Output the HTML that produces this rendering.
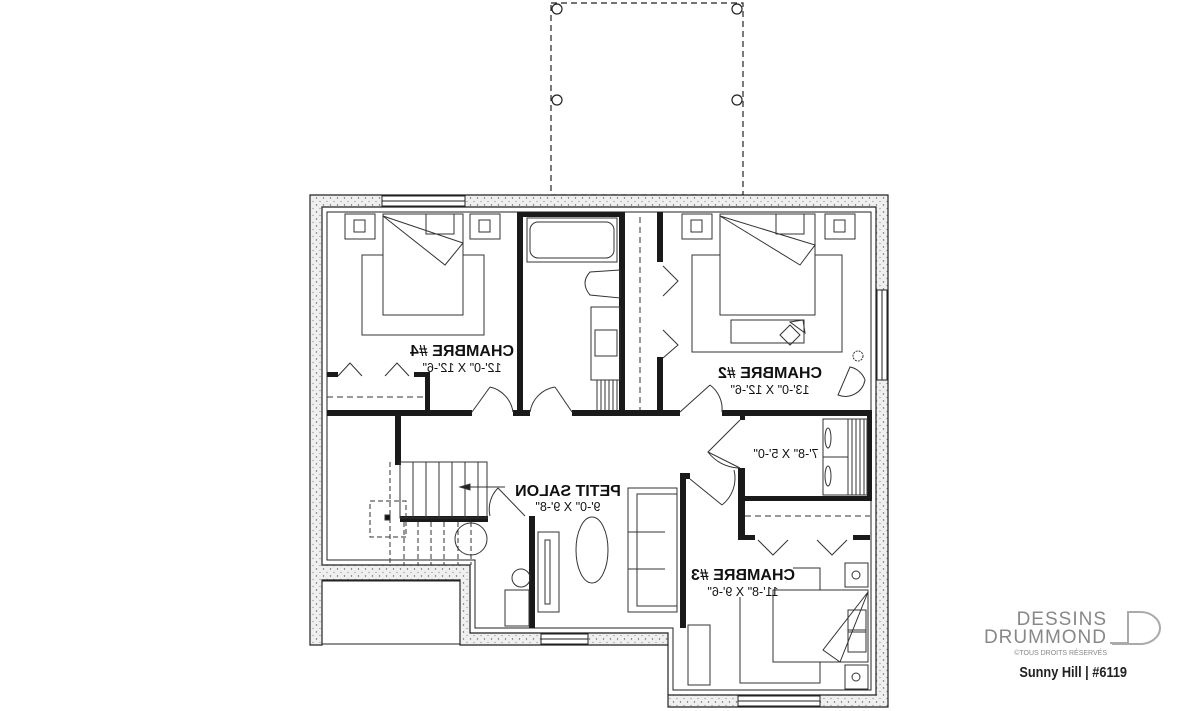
<!DOCTYPE html>
<html><head><meta charset="utf-8"><style>
html,body{margin:0;padding:0;background:#fff;}
svg{display:block;}
text{font-family:"Liberation Sans",sans-serif;}
</style></head><body>
<svg width="1200" height="711" viewBox="0 0 1200 711" xmlns="http://www.w3.org/2000/svg">
<defs>
<pattern id="dots" width="7" height="7" patternUnits="userSpaceOnUse">
<rect width="7" height="7" fill="#efefef"/>
<circle cx="1.5" cy="2" r="0.7" fill="#666"/>
<circle cx="5" cy="5.5" r="0.6" fill="#888"/>
</pattern>
</defs>
<g fill="none" stroke="#222" stroke-width="1.2">
<rect x="551" y="3" width="192" height="192" stroke-dasharray="6,4"/>
<circle cx="557" cy="9" r="5"/><circle cx="737" cy="9" r="5"/>
<circle cx="557" cy="100" r="5"/><circle cx="737" cy="100" r="5"/>
</g>
<g fill="url(#dots)" stroke="#222" stroke-width="1.2">
<path d="M310 195 H888 V707 H668 V645 H460 V580 H322 V645 H310 Z M322 207 V565 H470 V633 H668 V695 H876 V207 Z" fill-rule="evenodd"/>
</g>
<g fill="none" stroke="#222" stroke-width="1">
<path d="M327 212 H871 V690 H673 V628 H475 V560 H327 Z"/>
<rect x="322" y="581" width="138" height="63"/>
<line x1="322" y1="644" x2="460" y2="644" stroke-dasharray="6,4"/>
</g>
<g fill="#fff" stroke="#222" stroke-width="1">
<rect x="382" y="196" width="83" height="10"/><line x1="382" y1="201" x2="465" y2="201"/>
<rect x="877" y="290" width="10" height="90"/><line x1="882" y1="290" x2="882" y2="380"/>
<rect x="541" y="634" width="47" height="10"/><line x1="541" y1="639" x2="588" y2="639"/>
<rect x="738" y="696" width="82" height="10"/><line x1="738" y1="701" x2="820" y2="701"/>
</g>
<g fill="#1a1a1a">
<rect x="327" y="410" width="145" height="6"/>
<rect x="513" y="410" width="17" height="6"/>
<rect x="572" y="410" width="108" height="6"/>
<rect x="722" y="410" width="150" height="6"/>
<rect x="517" y="212" width="6" height="204"/>
<rect x="619" y="212" width="6" height="204"/>
<rect x="517" y="212" width="108" height="5"/>
<rect x="657" y="212" width="6" height="50"/>
<rect x="657" y="357" width="6" height="56"/>
<rect x="327" y="372" width="11" height="5"/>
<rect x="414" y="372" width="16" height="5"/>
<rect x="425" y="372" width="5" height="42"/>
<rect x="395" y="413" width="6" height="52"/>
<rect x="400" y="516" width="88" height="6"/>
<rect x="529" y="516" width="6" height="112"/>
<rect x="680" y="473" width="6" height="155"/>
<rect x="680" y="473" width="10" height="6"/>
<rect x="740" y="413" width="5" height="7"/>
<rect x="738" y="468" width="7" height="72"/>
<rect x="743" y="496" width="129" height="5"/>
<rect x="867" y="413" width="5" height="88"/>
<rect x="738" y="535" width="17" height="5"/>
<rect x="853" y="535" width="17" height="5"/>
</g>
<g fill="none" stroke="#333" stroke-width="1">
<line x1="327" y1="397" x2="425" y2="397" stroke-dasharray="6,4"/>
<line x1="640" y1="217" x2="640" y2="410" stroke-dasharray="6,4"/>
<line x1="745" y1="516" x2="870" y2="516" stroke-dasharray="6,4"/>
<path d="M338 376 L350 363 L362 376 M385 376 L397 363 L409 376"/>
<path d="M663 266 L678 281 L663 296 M663 330 L678 345 L663 358"/>
<path d="M758 540 L773 555 L788 540 M817 540 L832 555 L847 540"/>
<path d="M472 412 L490 387 M490 387 A30 30 0 0 1 513 412"/>
<path d="M572 412 L555 387 M555 387 A30 30 0 0 0 530 412"/>
<path d="M680 412 L710 385 M710 385 A30 30 0 0 1 722 412"/>
<path d="M740 420 L708 452 L740 468 M708 452 A40 40 0 0 0 738 468"/>
<path d="M690 479 L722 505 M722 505 A34 34 0 0 0 734 470"/>
<path d="M498 488 L525 516 M498 488 A30 30 0 0 0 490 516"/>
<rect x="362" y="255" width="122" height="80"/>
<rect x="383" y="214" width="80" height="101" fill="#fff"/>
<path d="M383 216 L463 243 L445 265 Z"/>
<rect x="345" y="214" width="30" height="25"/><rect x="354" y="220" width="11" height="12"/>
<rect x="470" y="214" width="30" height="25"/><rect x="479" y="220" width="11" height="12"/>
<rect x="426" y="214" width="28" height="20"/>
<rect x="692" y="255" width="150" height="97"/>
<rect x="720" y="214" width="95" height="101" fill="#fff"/>
<path d="M720 216 L815 245 L800 265 Z"/>
<rect x="682" y="214" width="30" height="25"/><rect x="691" y="220" width="11" height="12"/>
<rect x="825" y="214" width="30" height="25"/><rect x="834" y="220" width="11" height="12"/>
<rect x="776" y="214" width="28" height="20"/>
<rect x="731" y="320" width="73" height="23" fill="#fff"/>
<path d="M780 335 L790 325 L800 335 L790 345 Z M790 322 L803 320 L805 333 Z"/>
<path d="M838 395 A20 20 0 0 0 865 380 A20 20 0 0 0 850 367 L838 395 Z"/>
<circle cx="858" cy="356" r="5" stroke-dasharray="2,1"/>
<rect x="527" y="218" width="90" height="44"/>
<rect x="530" y="222" width="84" height="36" rx="8"/>
<path d="M620 270 L590 272 Q580 283 590 295 L620 298 Z"/>
<rect x="591" y="307" width="29" height="73"/>
<rect x="595" y="330" width="22" height="26"/>
<path d="M597 380 V410 M601 380 V410 M605 380 V410 M609 380 V410 M613 380 V410 M617 380 V410"/>
<rect x="400" y="462" width="87" height="56"/>
<path d="M413 462 V518 M426 462 V518 M439 462 V518 M452 462 V518 M465 462 V518 M478 462 V518"/>
<path d="M460 487 H505"/>
<path d="M460 487 L470 484 L470 490 Z" fill="#222"/>
<path d="M390 462 V565 M404 522 V565 M418 522 V565 M431 522 V565 M444 522 V565 M458 522 V565 M471 522 V565" stroke-dasharray="5,3"/>
<rect x="370" y="501" width="36" height="36" stroke-dasharray="5,3"/>
<rect x="385" y="515" width="5" height="5" fill="#111"/>
<circle cx="471" cy="539" r="16"/>
<circle cx="521" cy="578" r="9"/>
<rect x="505" y="590" width="24" height="36"/>
<rect x="538" y="532" width="21" height="80"/>
<rect x="545" y="540" width="5" height="64"/>
<ellipse cx="592" cy="550" rx="16" ry="33"/>
<rect x="628" y="488" width="49" height="124"/>
<rect x="637" y="494" width="40" height="112"/>
<line x1="628" y1="532" x2="665" y2="532"/><line x1="628" y1="569" x2="665" y2="569"/>
<rect x="823" y="419" width="44" height="76"/>
<line x1="823" y1="457" x2="848" y2="457"/>
<path d="M848 419 V495 M852 419 V495 M856 419 V495 M860 419 V495 M864 419 V495"/>
<ellipse cx="828" cy="438" rx="3" ry="10"/><ellipse cx="828" cy="476" rx="3" ry="10"/>
<path d="M793 568 H820 V590 M740 597 V683 H820 V662"/>
<rect x="773" y="590" width="95" height="72" fill="#fff"/>
<path d="M868 592 L823 650 L840 662 Z"/>
<rect x="845" y="563" width="23" height="24"/><circle cx="856" cy="575" r="4"/>
<rect x="845" y="665" width="23" height="24"/><circle cx="856" cy="677" r="4"/>
<rect x="848" y="610" width="18" height="22"/><rect x="848" y="630" width="18" height="22"/>
<rect x="688" y="625" width="22" height="60"/>
</g>
<g fill="#111" text-anchor="middle">
<g transform="translate(462,0) scale(-1,1)"><text x="0" y="356" font-size="16" font-weight="bold">CHAMBRE #4</text><text x="0" y="372" font-size="12.5">12'-0" X 12'-6"</text></g>
<g transform="translate(770,0) scale(-1,1)"><text x="0" y="378" font-size="16" font-weight="bold">CHAMBRE #2</text><text x="0" y="394" font-size="12.5">13'-0" X 12'-6"</text></g>
<g transform="translate(568,0) scale(-1,1)"><text x="0" y="496" font-size="16" font-weight="bold">PETIT SALON</text><text x="0" y="511" font-size="12.5">9'-0" X 9'-8"</text></g>
<g transform="translate(786,0) scale(-1,1)"><text x="0" y="458" font-size="12.5">7'-8" X 5'-0"</text></g>
<g transform="translate(743,0) scale(-1,1)"><text x="0" y="580" font-size="16" font-weight="bold">CHAMBRE #3</text><text x="0" y="596" font-size="12.5">11'-8" X 9'-6"</text></g>
</g>
<g fill="#888" stroke="none">
<text x="1107" y="625" font-size="19" text-anchor="end" letter-spacing="1">DESSINS</text>
<text x="1107" y="643" font-size="19" text-anchor="end" letter-spacing="1">DRUMMOND</text>
<text x="1107" y="655" font-size="7" text-anchor="end">©TOUS DROITS RÉSERVÉS</text>
</g>
<path d="M1110 643 H1128 V612 H1140 A20 16 0 0 1 1140 644 H1112" fill="none" stroke="#aaa" stroke-width="2"/>
<text x="1127" y="677" font-size="15" font-weight="bold" text-anchor="end" fill="#222" transform="translate(1127,0) scale(0.85,1) translate(-1127,0)">Sunny Hill | #6119</text>
</svg>
</body></html>
